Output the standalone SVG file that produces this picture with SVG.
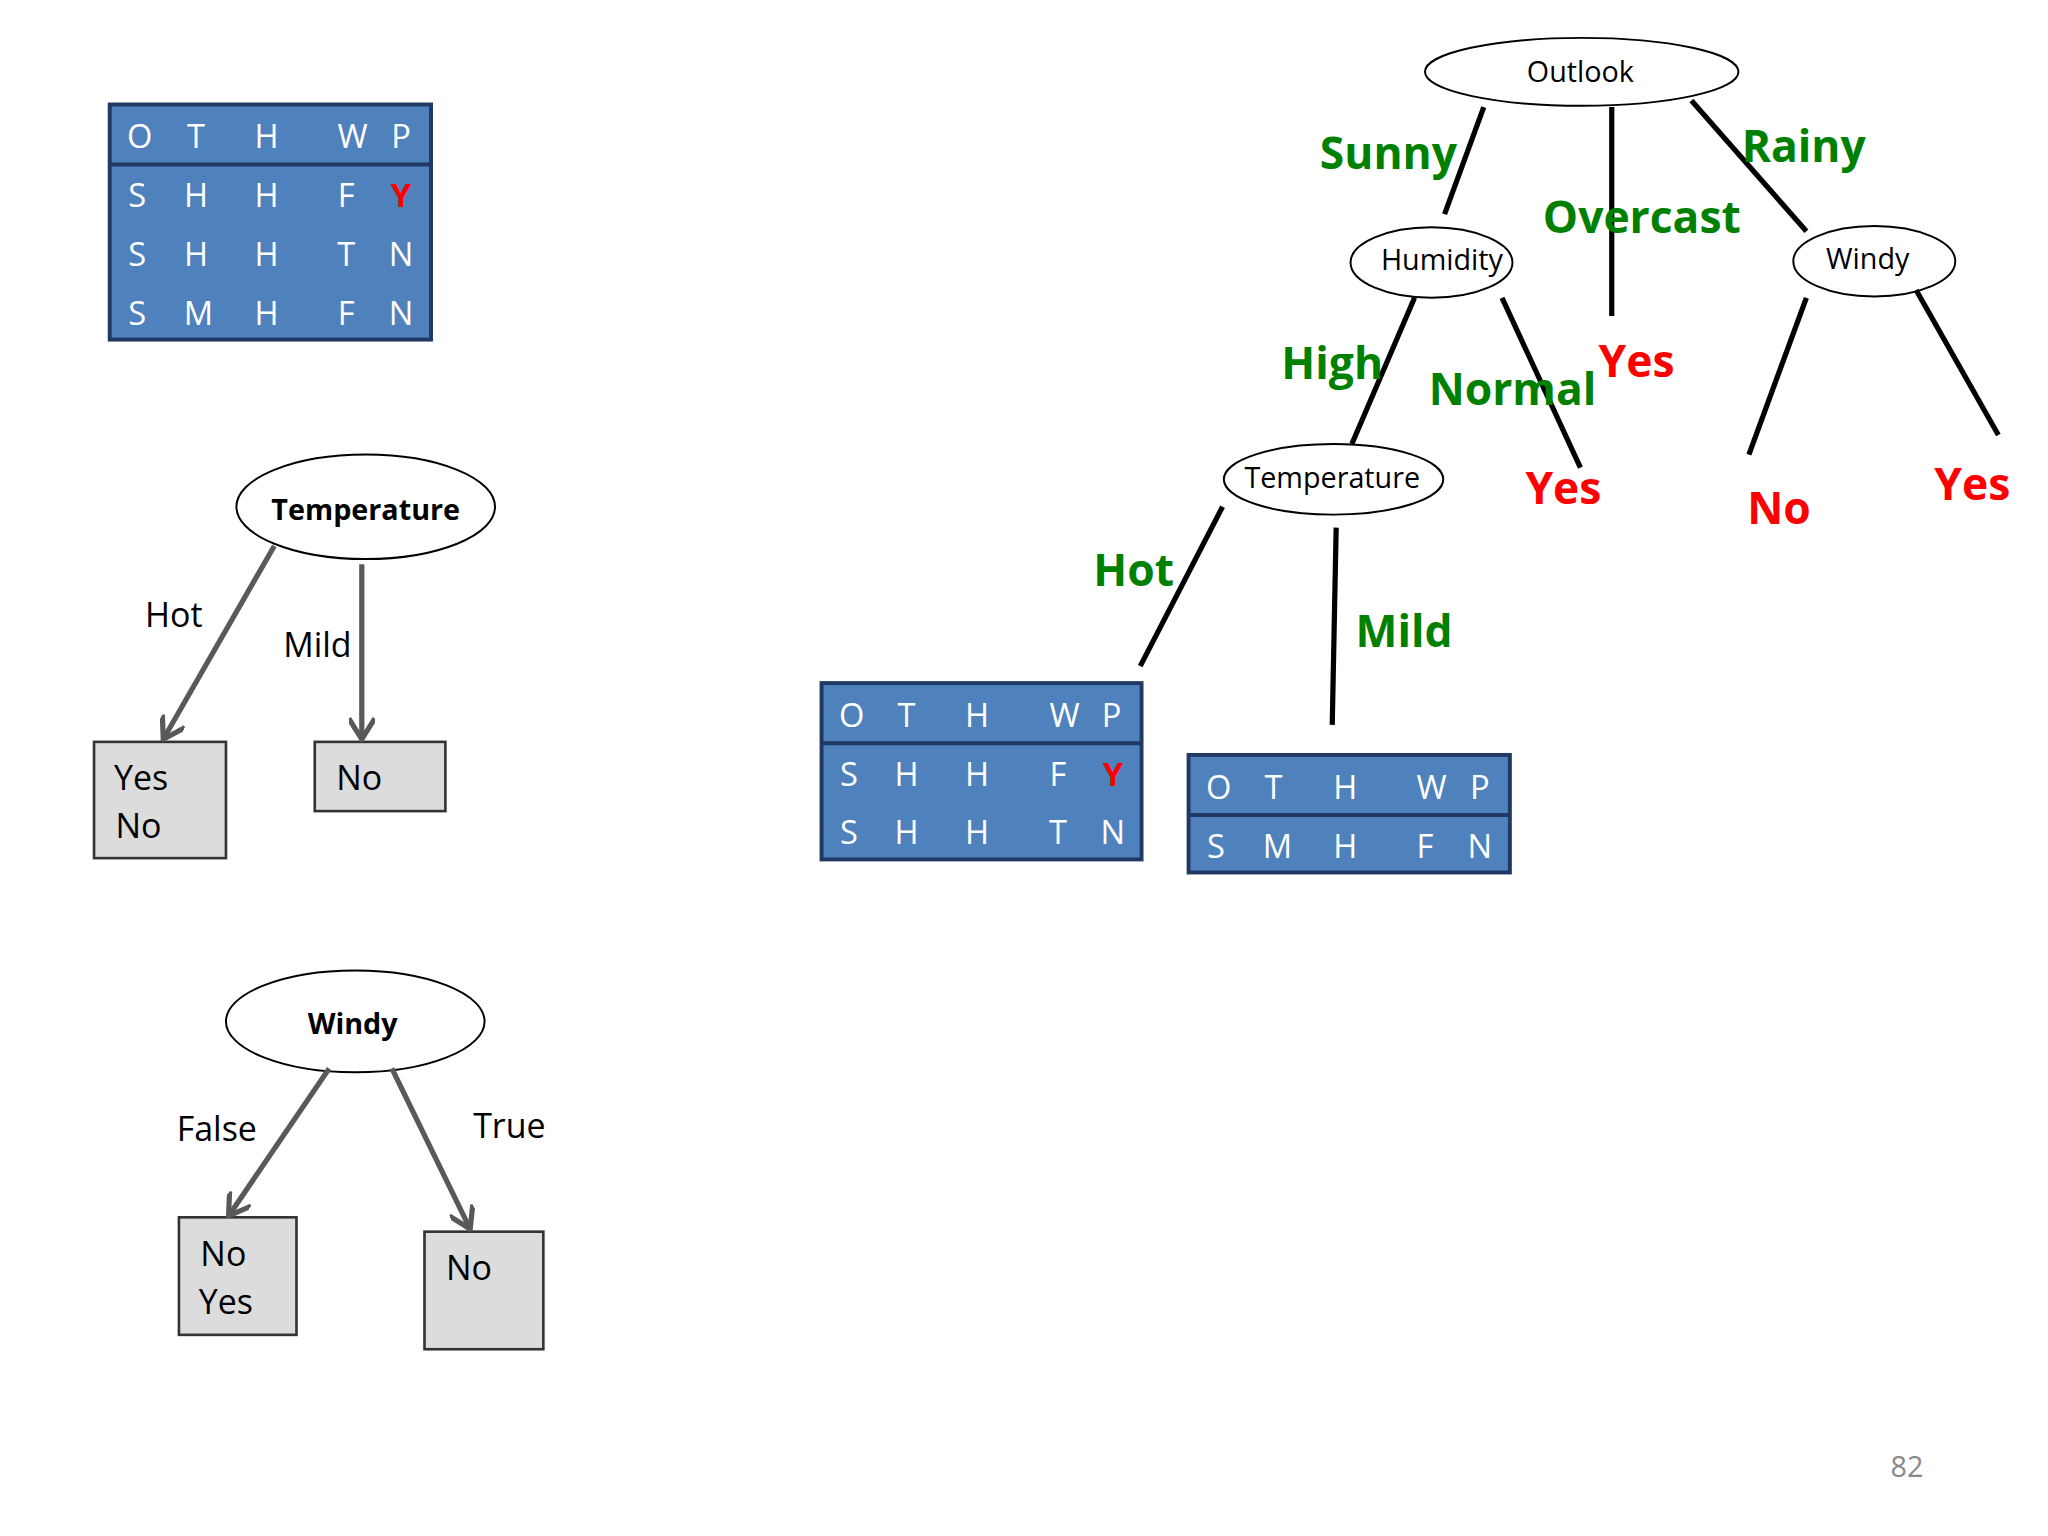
<svg xmlns="http://www.w3.org/2000/svg" width="2048" height="1536" viewBox="0 0 2048 1536">
<style>
text{font-family:"Open Sans","Liberation Sans",sans-serif;text-anchor:middle;dominant-baseline:central}
.tb{fill:#4f81bd;stroke:#1f3864;stroke-width:3}
.tt{fill:#fff;font-size:25px}
.el{fill:#fff;stroke:#000;stroke-width:1.5}
.bx{fill:#dcdcdc;stroke:#333;stroke-width:2}
.ar{stroke:#595959;stroke-width:4;fill:none;marker-end:url(#a)}
.ln{stroke:#000;stroke-width:4;fill:none}
.g{fill:#008000;font-size:34px;font-weight:bold}
.r{fill:#ff0000;font-size:34px;font-weight:bold}
.lb{font-size:26px;fill:#000}
</style>
<defs><marker id="a" viewBox="0 0 10 10" refX="9" refY="5" markerWidth="5" markerHeight="5" orient="auto"><path d="M1,0 L9,5 L1,10" fill="none" stroke="#595959" stroke-width="2"/></marker></defs>
<rect width="2048" height="1536" fill="#fff"/>
<g transform="scale(1.30612)">
<g id="table1">
<rect class="tb" x="84" y="80" width="246" height="180"/><line x1="84" y1="126" x2="330" y2="126" stroke="#1f3864" stroke-width="3"/>
<g class="tt"><text x="107" y="104">O</text><text x="150" y="104">T</text><text x="204" y="104">H</text><text x="270" y="104">W</text><text x="307" y="104">P</text>
<text x="105" y="149">S</text><text x="150" y="149">H</text><text x="204" y="149">H</text><text x="265" y="149">F</text><text x="307" y="149" fill="#f00" font-weight="bold">Y</text>
<text x="105" y="194">S</text><text x="150" y="194">H</text><text x="204" y="194">H</text><text x="265" y="194">T</text><text x="307" y="194">N</text>
<text x="105" y="239">S</text><text x="152" y="239">M</text><text x="204" y="239">H</text><text x="265" y="239">F</text><text x="307" y="239">N</text></g>
</g>
<g id="temp1"><ellipse class="el" cx="280" cy="388" rx="99" ry="40"/><text x="280" y="389" font-size="22" font-weight="bold">Temperature</text></g>
<g id="box1"><rect class="bx" x="72" y="568" width="101" height="89"/><text class="lb" x="108" y="595">Yes</text><text class="lb" x="106" y="632">No</text></g>
<g id="box2"><rect class="bx" x="241" y="568" width="100" height="53"/><text class="lb" x="275" y="595">No</text></g>
<g id="windy1"><ellipse class="el" cx="272" cy="782" rx="99" ry="39"/><text x="270" y="783" font-size="22" font-weight="bold">Windy</text></g>
<g id="box3"><rect class="bx" x="137" y="932" width="90" height="90"/><text class="lb" x="171" y="959">No</text><text class="lb" x="173" y="996">Yes</text></g>
<g id="box4"><rect class="bx" x="325" y="943" width="91" height="90"/><text class="lb" x="359" y="970">No</text></g>
<g id="outlook"><ellipse class="el" cx="1211" cy="55" rx="120" ry="26"/><text x="1210" y="54" font-size="22">Outlook</text></g>
<g id="humidity"><ellipse class="el" cx="1096" cy="201" rx="62" ry="27"/><text x="1104" y="198" font-size="22">Humidity</text></g>
<g id="windy2"><ellipse class="el" cx="1435" cy="200" rx="62" ry="27"/><text x="1430" y="197" font-size="22">Windy</text></g>
<g id="temp2"><ellipse class="el" cx="1021" cy="367" rx="84" ry="27"/><text x="1020" y="365" font-size="22">Temperature</text></g>
<g id="table2">
<rect class="tb" x="629" y="523" width="245" height="135"/><line x1="629" y1="569" x2="874" y2="569" stroke="#1f3864" stroke-width="3"/>
<g class="tt"><text x="652" y="547">O</text><text x="694" y="547">T</text><text x="748" y="547">H</text><text x="815" y="547">W</text><text x="851" y="547">P</text>
<text x="650" y="592">S</text><text x="694" y="592">H</text><text x="748" y="592">H</text><text x="810" y="592">F</text><text x="852" y="592" fill="#f00" font-weight="bold">Y</text>
<text x="650" y="637">S</text><text x="694" y="637">H</text><text x="748" y="637">H</text><text x="810" y="637">T</text><text x="852" y="637">N</text></g>
</g>
<g id="table3">
<rect class="tb" x="910" y="578" width="246" height="90"/><line x1="910" y1="624" x2="1156" y2="624" stroke="#1f3864" stroke-width="3"/>
<g class="tt"><text x="933" y="602">O</text><text x="975" y="602">T</text><text x="1030" y="602">H</text><text x="1096" y="602">W</text><text x="1133" y="602">P</text>
<text x="931" y="647">S</text><text x="978" y="647">M</text><text x="1030" y="647">H</text><text x="1091" y="647">F</text><text x="1133" y="647">N</text></g>
</g>
<g id="leaves">
<text class="r" x="1253" y="276">Yes</text><text class="r" x="1197" y="373">Yes</text><text class="r" x="1362" y="388">No</text><text class="r" x="1510" y="370">Yes</text>
</g>
<g id="connectors">
<line class="ar" x1="210" y1="418" x2="125" y2="566"/>
<line class="ar" x1="277" y1="432" x2="277" y2="566"/>
<line class="ar" x1="252" y1="818" x2="175" y2="931"/>
<line class="ar" x1="300" y1="818" x2="360" y2="941"/>
<line class="ln" x1="1136" y1="82" x2="1106" y2="164"/>
<line class="ln" x1="1234" y1="82" x2="1234" y2="242"/>
<line class="ln" x1="1295" y1="77" x2="1383" y2="177"/>
<line class="ln" x1="1083" y1="228" x2="1035" y2="340"/>
<line class="ln" x1="1150" y1="228" x2="1210" y2="358"/>
<line class="ln" x1="936" y1="388" x2="873" y2="510"/>
<line class="ln" x1="1023" y1="404" x2="1020" y2="555"/>
<line class="ln" x1="1383" y1="228" x2="1339" y2="348"/>
<line class="ln" x1="1467" y1="222" x2="1530" y2="333"/>
<text class="lb" x="133" y="470">Hot</text><text class="lb" x="243" y="493">Mild</text>
<text class="lb" x="166" y="864">False</text><text class="lb" x="390" y="861">True</text>
<text class="g" x="1063" y="116">Sunny</text><text class="g" x="1257" y="165">Overcast</text><text class="g" x="1381" y="111">Rainy</text>
<text class="g" x="1020" y="277">High</text><text class="g" x="1158" y="297">Normal</text>
<text class="g" x="868" y="436">Hot</text><text class="g" x="1075" y="482">Mild</text>
</g>
<text x="1460" y="1122" font-size="22" fill="#888">82</text>
</g>
</svg>
